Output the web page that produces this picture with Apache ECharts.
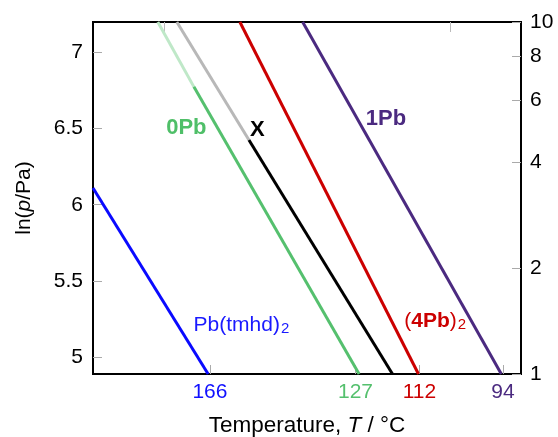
<!DOCTYPE html>
<html>
<head>
<meta charset="utf-8">
<script src="https://cdn.jsdelivr.net/npm/echarts@6/dist/echarts.min.js"></script>
<style>
html,body{margin:0;padding:0;background:#fff;}
#c{width:558px;height:437px;}
</style>
</head>
<body>
<div id="c"></div>
<script>
// x values are 1000/T (K^-1), y values are ln(p/Pa)
const lineTmhd   = [[2.0989, 6.109], [2.2744, 4.893]];
const line0PbExt = [[2.1977, 7.1954], [2.2527, 6.771]];
const line0Pb    = [[2.2527, 6.771], [2.5045, 4.893]];
const lineXExt   = [[2.2267, 7.1954], [2.3366, 6.423]];
const lineX      = [[2.3366, 6.423], [2.5554, 4.893]];
const line4Pb    = [[2.3228, 7.1954], [2.5950, 4.893]];
const line1Pb    = [[2.4185, 7.1954], [2.7213, 4.893]];

// temperatures (°C) labelled on the bottom axis
const tempLabels = [166, 127, 112, 94];
const tempColors = ['#1010ff', '#55c06e', '#cc0000', '#4b2a80'];
// left axis ticks, ln(p/Pa)
const lnTicks = [5, 5.5, 6, 6.5, 7];
// right axis ticks, p in Torr
const torrTicks = [1, 2, 4, 6, 8, 10];
// faint ticks on the top axis (1000/T)
const topTicks = [2.2073, 2.6435];

// label annotations: [x, y, text]
const annotations = [
  [2.2412, 6.501, '{g|0Pb}'],
  [2.3495, 6.488, '{k|X}'],
  [2.5454, 6.560, '{p|1Pb}'],
  [2.3251, 5.215, '{b|Pb(tmhd)}{bs|2}'],
  [2.6205, 5.241, '{r|(}{rb|4Pb}{r|)}{rs|2}']
];

const TORR = 133.322;
const yMin = Math.log(TORR), yMax = Math.log(10 * TORR);
const xMin = 2.0989, xMax = 2.7513;
const FONT = "'Liberation Sans', Arial, sans-serif";
const FS = 21;

const chart = echarts.init(document.getElementById('c'), null, {renderer: 'canvas'});

function lineSeries(data, color) {
  return {type: 'line', data: data, showSymbol: false, symbol: 'none', silent: true,
    lineStyle: {color: color, width: 3}, clip: true, z: 3};
}

const rich = {};
tempLabels.forEach((t, i) => { rich['c' + i] = {color: tempColors[i], fontSize: FS, fontFamily: FONT}; });

const option = {
  animation: false,
  backgroundColor: '#fff',
  grid: {left: 93, top: 22, width: 428, height: 352, show: true, borderColor: '#000', borderWidth: 2,
    backgroundColor: 'transparent', containLabel: false, outerBoundsMode: 'none'},
  xAxis: [{
    type: 'value', min: xMin, max: xMax, position: 'bottom',
    splitLine: {show: false},
    axisLine: {show: false},
    axisTick: {show: true, inside: true, length: 9, customValues: tempLabels.map(t => 1000 / (t + 273.15)), lineStyle: {color: '#aaa', width: 1}},
    axisLabel: {
      show: true, margin: 8, fontSize: FS, fontFamily: FONT,
      customValues: tempLabels.map(t => 1000 / (t + 273.15)),
      formatter: function (v) {
        const t = Math.round(1000 / v - 273.15);
        const i = tempLabels.indexOf(t);
        return '{c' + i + '|' + t + '}';
      },
      rich: rich
    },
    name: 'Temperature, {i|T} / °C',
    nameLocation: 'middle', nameGap: 40,
    nameTextStyle: {fontSize: 22.5, fontFamily: FONT, color: '#000',
      rich: {i: {fontStyle: 'italic', fontSize: 22.5, fontFamily: FONT, color: '#000'}}}
  }, {
    type: 'value', min: xMin, max: xMax, position: 'top',
    splitLine: {show: false}, axisLine: {show: false},
    axisTick: {show: true, inside: true, length: 10, customValues: topTicks, lineStyle: {color: '#bbb', width: 1}},
    axisLabel: {show: false}
  }],
  yAxis: [{
    type: 'value', min: yMin, max: yMax, position: 'left',
    splitLine: {show: false}, axisLine: {show: false},
    axisTick: {show: true, inside: true, length: 9, customValues: lnTicks, lineStyle: {color: '#aaa', width: 1}},
    axisLabel: {show: true, customValues: lnTicks, margin: 10, fontSize: FS, fontFamily: FONT, color: '#000',
      formatter: v => String(v)},
    name: 'ln({i|p}/Pa)', nameLocation: 'middle', nameGap: 58, nameRotate: 90,
    nameTextStyle: {fontSize: FS, fontFamily: FONT, color: '#000',
      rich: {i: {fontStyle: 'italic', fontSize: FS, fontFamily: FONT, color: '#000'}}}
  }, {
    type: 'value', min: yMin, max: yMax, position: 'right',
    splitLine: {show: false}, axisLine: {show: false},
    axisTick: {show: true, inside: true, length: 9, customValues: torrTicks.map(p => Math.log(p * TORR)), lineStyle: {color: '#aaa', width: 1}},
    axisLabel: {show: true, customValues: torrTicks.map(p => Math.log(p * TORR)), margin: 9, fontSize: FS, fontFamily: FONT, color: '#000',
      formatter: v => String(Math.round(Math.exp(v) / TORR))}
  }],
  series: [
    lineSeries(lineTmhd, '#0a0aff'),
    lineSeries(line0PbExt, '#bfe8c8'),
    lineSeries(line0Pb, '#55c06e'),
    lineSeries(lineXExt, '#b8b8b8'),
    lineSeries(lineX, '#000000'),
    lineSeries(line4Pb, '#cc0000'),
    lineSeries(line1Pb, '#4b2a80'),
    {
      type: 'scatter', symbolSize: 0, silent: true, z: 5,
      itemStyle: {opacity: 1},
      data: annotations.map(a => ({value: [a[0], a[1]], name: a[2]})),
      label: {
        show: true, position: 'inside', formatter: p => p.name, opacity: 1,
        rich: {
          g: {color: '#4fbf68', fontWeight: 'bold', fontSize: 22, fontFamily: FONT},
          k: {color: '#000', fontWeight: 'bold', fontSize: 22, fontFamily: FONT},
          p: {color: '#4b2a80', fontWeight: 'bold', fontSize: 22, fontFamily: FONT},
          b: {color: '#1a1aff', fontSize: FS, fontFamily: FONT},
          bs: {color: '#1a1aff', fontSize: 15, fontFamily: FONT, padding: [9, 0, 0, 1]},
          r: {color: '#cc0000', fontSize: FS, fontFamily: FONT},
          rb: {color: '#cc0000', fontWeight: 'bold', fontSize: FS, fontFamily: FONT},
          rs: {color: '#cc0000', fontSize: 15, fontFamily: FONT, padding: [9, 0, 0, 1]}
        }
      }
    }
  ]
};
chart.setOption(option);
</script>
</body>
</html>
